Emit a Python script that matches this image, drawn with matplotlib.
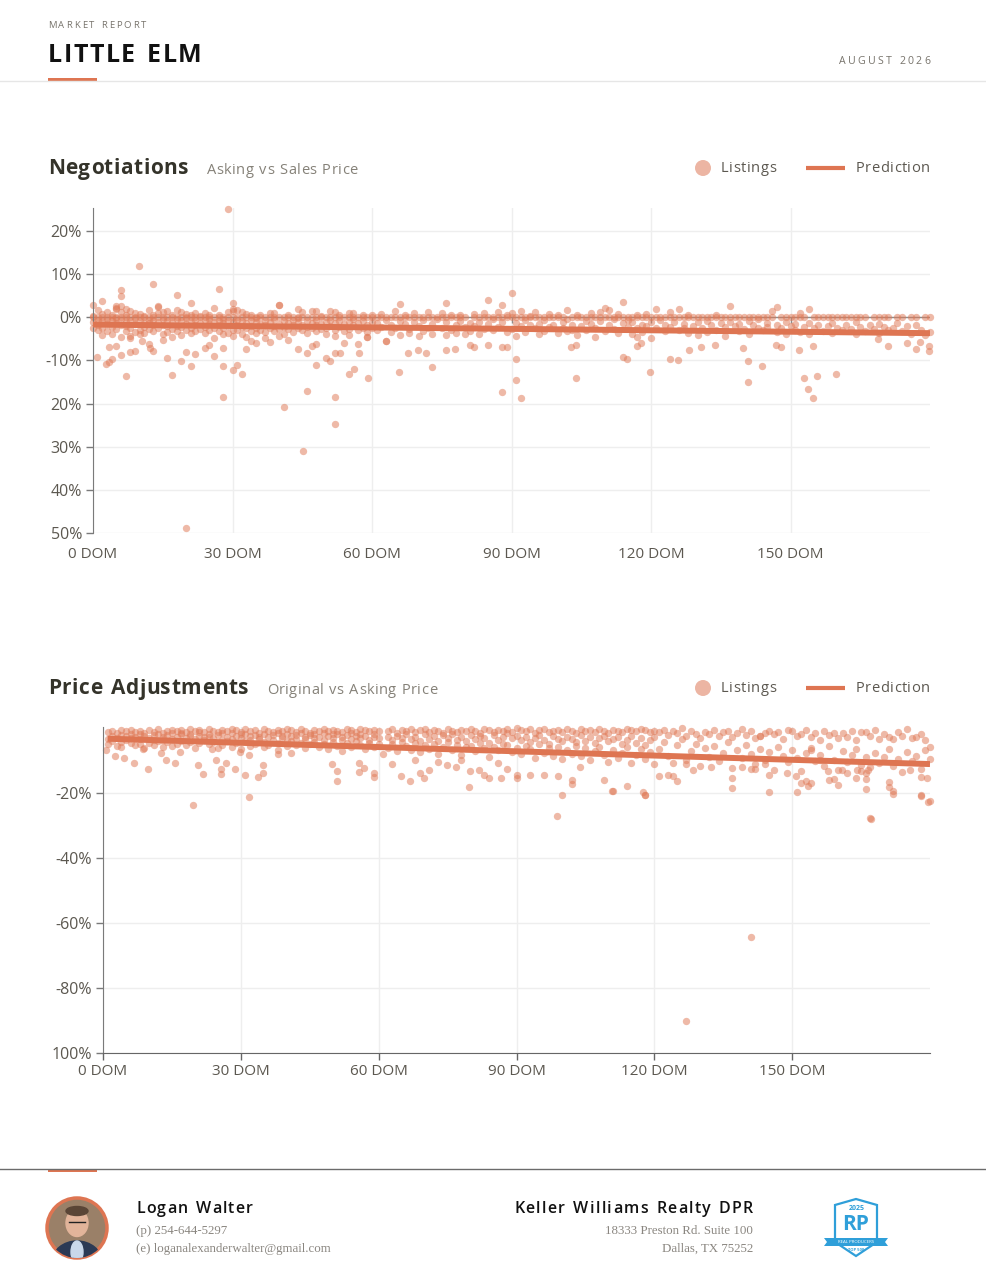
import matplotlib
matplotlib.use("Agg")
import matplotlib.pyplot as plt
from matplotlib.patches import Circle, Ellipse, Polygon, Rectangle

W, H = 986, 1272
ORANGE = '#DE7552'
DOT = '#E07A57'
GRID = '#eeeeee'
TXT = '#5c5850'
SANS = ['Open Sans', 'DejaVu Sans']
SERIF = ['Liberation Serif', 'DejaVu Serif']

# ---- Negotiations (asking vs sales price), % by days on market ----
top_rows = [
    (0, [0, -2.4, 0.3, -1.1, 2.9]), (1, [0, -1.8, -0.6, 1.6, -3.0]), (2, [0, -0.9, -2.6, 0.8, -4.1]),
    (3, [0, 1.2, -1.5, -3.3, -0.4]), (4, [0, -2.2, -0.7, 0.5, -3.8]), (5, [0, 1.8, -1.3, -2.7, -0.2, 2.2]),
    (6, [0, 2.5, -0.5, -1.9, -4.6, 1.1]), (7, [0, 1.9, -1.2, -3.1, 0.6, -2.0]), (8, [0, -0.8, -2.5, 1.4, -4.3]),
    (9, [0, 1.0, -1.6, -3.4, -0.3]), (10, [0, -2.9, -0.9, 0.7, -4.0]), (11, [0, -1.4, -3.6, 0.2, -2.2]),
    (12, [0, 1.7, -0.6, -2.8, -1.3]), (13, [0, -1.9, 0.4, -3.2, -0.8]), (14, [0, 2.4, -1.1, -2.4, 0.9]),
    (15, [0, -0.4, -1.7, -3.9, 1.3]), (16, [0, 1.5, -2.1, -0.9, -3.5]), (17, [0, -1.2, -4.6, 0.6, -2.7]),
    (18, [0, 1.6, -0.5, -2.0, -3.3]), (19, [0, -0.8, -2.3, 1.2, -4.1]), (20, [0, 0.8, -1.5, -3.0, -0.3]),
    (21, [0, -1.0, -2.6, 0.5, -3.7]), (22, [0, -0.6, -1.9, 1.0, -3.1]), (23, [0, -1.4, -2.8, 0.3]),
    (24, [0, 0.9, -0.7, -2.2, -3.6]), (25, [0, -1.6, -0.4, 0.6, -2.9]), (26, [0, 2.2, -1.1, -4.8, -2.4]),
    (27, [0, -0.9, -1.8, 0.4, -3.3]), (28, [0, -1.3, -2.5, -0.5, -4.0]), (29, [0, 1.1, -0.8, -2.1, -3.7]),
    (30, [0, 2.0, -1.0, -2.9, -4.4, 1.4]), (31, [0, 1.6, -0.6, -1.7, -3.0]), (32, [0, 1.3, -2.2, -0.9, -3.8]),
    (33, [0, 0.7, -1.4, -2.6, -4.7]), (34, [0, -0.7, -2.0, 0.4, -3.2]), (35, [0, -1.1, -2.4, -0.3, -3.6]),
    (36, [0, 0.5, -1.6, -2.9]), (37, [0, -0.8, -1.9, -3.4, -4.9]), (38, [0, 0.9, -1.2, -2.5]),
    (39, [0, -0.5, -2.1, -3.3, 1.0]), (40, [0, 2.9, -1.6, -2.8, -4.4]), (41, [0, -0.9, -2.3, -3.9]),
    (42, [0, 0.6, -1.4, -2.7]), (43, [0, -0.6, -1.8, -3.5]), (44, [0, 1.8, -1.0, -2.4, -0.3]),
    (45, [0, -1.7, -3.0, 1.1]), (46, [0, -0.8, -2.2, -3.7]), (47, [0, 1.4, -1.3, -2.6]),
    (48, [0, -0.7, -1.9, -3.1, 1.5]), (49, [0, 0.3, -1.5, -2.8]), (50, [0, -1.1, -2.4, -3.9]),
    (51, [0, 1.4, -0.6, -2.0]), (52, [0, -1.3, -2.9, -4.3, 1.2]), (53, [0, -0.8, -2.2, 0.4]),
    (54, [0, -1.6, -3.2]), (55, [0, 0.9, -1.1, -2.7, -4.1]), (56, [0, -0.5, -1.9, 1.0]),
    (57, [0, -1.4, -3.0]), (58, [0, 0.6, -0.9, -2.4]), (59, [0, -1.8, -3.5, -4.6]),
    (60, [0, 0.5, -1.2, -2.6]), (61, [0, -1.3, -3.0]), (62, [0, 0.8, -2.2]), (63, [0, -0.6, -5.5]),
    (64, [0, -1.9, -3.4]), (65, [0, 1.4, -2.5]), (66, [0, -0.9, -4.1, 3.1]), (67, [0, -1.6, 0.5]),
    (68, [0, -2.8, -3.7]), (69, [0, 0.9, -1.2]), (70, [0, -2.0, -4.4]), (71, [0, -0.7, -3.1]),
    (72, [0, 1.2, -2.4]), (73, [0, -1.5, -3.9]), (74, [0, -0.4]), (75, [0, -2.6, 1.0]),
    (76, [0, -1.1, -4.2, 3.3]), (77, [0, 0.6, -2.9]), (78, [0, -1.8, -3.6]), (79, [0, -0.8, 0.4]),
    (80, [0, -2.3, -4.0]), (81, [-1.4, -3.3]), (82, [0, 0.7, -2.1]), (83, [0, -1.0, -3.8]),
    (84, [0, -2.7, 0.9]), (85, [0, 4.1, -1.6]), (86, [0, -0.5, -3.0]), (87, [0, 1.1, -2.3]),
    (88, [0, 2.9, -1.2]), (89, [0, -3.5, 0.5]), (90, [0, 5.5, 1.0, -2.8]), (91, [0, -1.3, -4.3]),
    (92, [0, 1.5, -2.0]), (93, [0, -0.7, -3.4]), (94, [0, 0.3, -1.9]), (95, [0, 1.2, -2.6]),
    (96, [0, -1.5, -4.0]), (97, [0, -0.6, -3.1]), (98, [0, 0.8, -2.2]), (99, [0, -1.8]),
    (100, [0, 0.5, -3.7]), (101, [0, -1.0, -2.4]), (102, [1.7, -0.4, -3.3]), (103, [0, -1.7, -2.9]),
    (104, [0, 0.6, -4.2]), (105, [0, -2.1]), (106, [0, -0.8, -3.0]), (107, [0, 0.9, -1.5]),
    (108, [0, -2.6, -4.5]), (109, [0, 1.3, -0.9]), (110, [0, 2.2, -3.2]), (111, [0, 1.6, -1.9]),
    (112, [0, -0.5, -2.7]), (113, [0, 0.7, -3.6]), (114, [3.6, 0, -1.4]), (115, [0, -2.2, -0.6]),
    (116, [0, -1.1, -4.0]), (117, [0, 0.4, -2.5]), (118, [0, -1.7, -3.4]), (119, [0, 0.8, -2.0]),
    (120, [0, -1.2, -4.8]), (121, [0, 1.9, -2.6]), (122, [0, -0.7]), (123, [0, -1.8, -3.3]),
    (124, [0, 1.3, -2.2]), (125, [0, -1.0]), (126, [0, 1.9, -3.0]), (127, [0, -1.5, -2.4]),
    (128, [0, 0.5, -3.7]), (129, [0, -2.0]), (130, [0, -1.2, -4.1]), (131, [0, -2.6]),
    (132, [0, -0.9, -3.5]), (133, [0, -1.8]), (134, [0, 0.6, -2.9]), (135, [0, -1.4]),
    (136, [0, -2.3, -4.4]), (137, [0, 2.6, -1.1]), (138, [0, -2.0]), (139, [0, -1.5, -3.2]),
    (140, [0, -2.7]), (141, [0, -0.8, -3.9]), (142, [0, -1.9]), (143, [0, -2.4, -0.5]),
    (144, [0, -3.0]), (145, [0, -1.3, -2.2]), (146, [0, 1.4]), (147, [2.4, -1.7, -3.4]),
    (148, [0, -2.5]), (149, [0, -1.0, -3.8]), (150, [0, -2.1]), (151, [0, -1.6, -2.9]),
    (152, [0, 1.0, -3.5]), (153, [0, -2.2]), (154, [1.9, -1.3, -4.0]), (155, [0, -2.6]),
    (156, [0, -1.8]), (157, [0, -3.1]), (158, [0, -2.0]), (159, [0, -1.4, -3.6]),
    (160, [0, -2.4]), (161, [0, -3.0]), (162, [0, -1.7]), (163, [0, -2.8]), (164, [0, -1.2, -3.9]),
    (165, [0, -2.3]), (166, [0, -3.3]), (167, [-1.9]), (168, [0, -2.7]), (169, [0, -1.5, -3.7]),
    (170, [0, -2.2]), (171, [0, -3.0]), (172, [-2.6]), (173, [0, -1.4]), (174, [0, -3.2]),
    (175, [-2.0]), (176, [0, -3.8]), (177, [0, -1.7]), (178, [-2.9]), (179, [0, -4.2]), (180, [0, -3.5]),
]
top_out_dom = [29, 9.9, 13, 6, 6, 27, 18, 1.9, 21.1, 30.1, 40, 13.9, 5,
               0.9, 2.9, 3.5, 4, 5, 6, 7, 7.9, 9, 12.2, 13, 16, 17, 19, 19.9, 21, 22, 24, 26,
               28, 28, 28, 30, 31, 32, 33, 34, 41.1, 44.1, 45.1, 46, 46, 48, 48, 50, 51, 52, 52,
               52, 53.1, 55, 56.1, 57.1, 59.1, 19.9, 59, 63, 65.7, 73, 67.7, 71.7, 90.9, 90.9,
               87.9, 92, 103.9, 113.9, 114.9, 119.8, 124, 125.9, 140.9, 140.9, 143.8, 152.8,
               153.8, 154.8, 155.8, 159.8, 139.8, 133.8, 128.2, 130.8, 151.8, 154.8, 146.9,
               147.9, 170.9, 175, 177, 177.9, 179.8, 179.8, 168.9, 75.9, 77.9, 69.9, 81, 82,
               85, 88, 89, 102.9, 103.8, 116.9, 117.9, 116.9, 3.5, 8, 10.5, 12, 15, 25, 35, 38,
               42, 47, 54, 57]
top_out_pct = [25.0, 11.9, 7.6, 6.3, 4.9, 6.6, 5.2, 3.7, 3.3, 3.2, 2.9, 2.6, 2.7,
               -9.2, -10.9, -10.4, -9.8, -6.6, -8.7, -13.7, -8.0, -7.9, -7.1, -7.9, -9.5, -13.5,
               -10.1, -8.0, -11.2, -8.5, -7.1, -9.1, -11.2, -18.4, -7.1, -12.2, -11.0, -13.2,
               -7.4, -5.4, -20.9, -7.3, -30.9, -17.1, -8.3, -11.0, -6.1, -9.4, -10.2, -18.5,
               -24.7, -8.3, -8.3, -13.2, -12.0, -8.3, -14.0, -48.8, -4.6, -5.5, -12.8, -11.6,
               -8.3, -8.4, -9.8, -14.5, -17.3, -18.7, -14.1, -9.3, -9.8, -12.7, -9.8, -9.9,
               -10.1, -15.0, -11.3, -14.2, -16.6, -18.8, -13.7, -13.2, -7.1, -6.5, -7.7, -7.0,
               -7.6, -6.7, -6.5, -6.9, -6.7, -6.0, -7.4, -5.7, -6.7, -7.9, -5.1, -7.5, -7.4,
               -7.5, -6.4, -6.9, -6.5, -6.9, -6.8, -7.0, -6.5, -6.6, -6.0, -4.7, -6.8, -4.9,
               -5.6, -6.2, -5.3, -6.4, -6.0, -5.8, -5.2, -6.6, -5.9, -6.2]
top_pred_dom = [0, 180]
top_pred_pct = [-1.7, -3.7]
top_xticks = [0, 30, 60, 90, 120, 150]
top_yticks = [20, 10, 0, -10, -20, -30, -40, -50]
top_ylabels = ['20%', '10%', '0%', '-10%', '20%', '30%', '40%', '50%']

# ---- Price adjustments (original vs asking price), % by days on market ----
bot_rows = [
    (1, [-1.2, -3.5, -5.0]), (2, [-0.8, -2.6, -4.1]), (3, [-1.5, -3.0, -5.6]), (4, [-0.6, -2.1, -4.4, -6.0]),
    (5, [-1.0, -3.8, -2.4]), (6, [-0.5, -1.9, -4.6, -3.2]), (7, [-1.3, -2.8, -5.3]), (8, [-0.9, -3.4, -2.0, -4.9]),
    (9, [-1.6, -2.5, -6.2]), (10, [-0.7, -3.1, -4.5]), (11, [-1.1, -2.2, -5.1, -3.7]), (12, [-0.4, -1.8, -4.0]),
    (13, [-1.4, -2.9, -3.6, -5.8]), (14, [-0.8, -2.3, -4.3]), (15, [-0.6, -1.5, -3.3, -5.5]), (16, [-1.0, -2.7, -4.8]),
    (17, [-0.5, -2.0, -3.9, -1.4]), (18, [-1.2, -3.2, -5.2]), (19, [-0.3, -1.7, -2.6, -4.2]), (20, [-0.9, -3.5, -6.3]),
    (21, [-0.6, -2.4, -4.6, -1.3]), (22, [-1.1, -2.9, -3.8]), (23, [-0.4, -1.9, -5.0, -2.7]), (24, [-0.8, -3.0, -4.4]),
    (25, [-1.3, -2.2, -6.1]), (26, [-0.5, -1.6, -3.6, -5.3]), (27, [-1.0, -2.8, -4.0]), (28, [-0.2, -1.4, -3.3, -5.7]),
    (29, [-0.7, -2.5, -4.7]), (30, [-1.2, -3.1, -2.0, -6.6]), (31, [-0.4, -1.8, -4.1]), (32, [-0.9, -2.6, -3.7, -5.4]),
    (33, [-0.6, -2.1, -4.9]), (34, [-1.4, -3.4, -2.7]), (35, [-0.3, -1.7, -4.3, -6.0]), (36, [-0.8, -2.9, -5.1]),
    (37, [-1.1, -2.3, -3.6]), (38, [-0.5, -1.5, -4.5, -6.9]), (39, [-0.9, -3.2, -2.4]), (40, [-0.2, -1.9, -4.0, -5.6]),
    (41, [-0.7, -2.6, -3.9]), (42, [-1.2, -3.5, -5.3, -2.1]), (43, [-0.4, -1.6, -4.6]), (44, [-0.8, -2.8, -3.4, -6.2]),
    (45, [-1.5, -2.3, -5.0]), (46, [-0.6, -1.9, -4.2, -3.1]), (47, [-0.9, -2.7, -5.8]), (48, [-0.3, -1.4, -3.7, -4.8]),
    (49, [-1.0, -2.5, -6.4]), (50, [-0.5, -3.0, -4.4, -2.0]), (51, [-0.8, -1.8, -5.5]), (52, [-1.3, -2.9, -3.8, -7.0]),
    (53, [-0.4, -2.2, -4.7]), (54, [-0.7, -1.6, -3.3, -5.9]), (55, [-1.1, -2.6, -4.1]), (56, [-0.2, -1.9, -5.2, -3.0]),
    (57, [-0.6, -2.4, -6.6]), (58, [-1.0, -3.6, -4.5]), (59, [-0.5, -1.7, -2.8, -5.7]), (60, [-0.8, -3.2, -4.9]),
    (62, [-0.9, -2.9, -6.1]), (63, [-0.3, -3.8, -5.0]), (64, [-1.4, -2.4, -7.2]), (65, [-0.6, -4.3, -3.1]),
    (66, [-1.0, -2.0, -5.6]), (67, [-0.4, -3.5, -6.8]), (68, [-1.2, -2.7, -4.6]), (69, [-0.7, -4.0, -7.5]),
    (70, [-0.2, -1.8, -5.3]), (71, [-1.1, -3.3, -6.4]), (72, [-0.5, -2.6, -4.8]), (73, [-0.9, -3.9, -7.9]),
    (74, [-1.6, -2.2, -5.9]), (75, [-0.3, -4.4, -3.0]), (76, [-0.8, -1.9, -6.7]), (77, [-1.3, -3.6, -5.1]),
    (78, [-0.6, -2.8, -8.3]), (79, [-1.0, -4.1, -6.0]), (80, [-0.4, -2.3, -5.4]), (81, [-0.9, -3.4, -7.1]),
    (82, [-1.5, -2.5, -4.7]), (83, [-0.2, -3.0, -6.3]), (84, [-0.7, -4.6, -8.8]), (85, [-1.1, -2.1, -5.7]),
    (86, [-0.5, -3.7, -6.9]), (87, [-0.8, -2.9, -4.9]), (88, [-0.3, -1.6, -5.2]), (89, [-1.2, -3.2, -7.4]),
    (90, [-0.1, -2.4, -6.1]), (91, [-0.6, -3.8, -8.0]), (92, [-1.0, -2.7, -5.5]), (93, [-0.4, -4.3, -6.6]),
    (94, [-1.4, -3.1, -9.2]), (95, [-0.7, -2.2, -5.0]), (96, [-0.3, -3.6, -7.7]), (97, [-1.1, -4.8, -6.3]),
    (98, [-0.9, -2.6, -8.5]), (99, [-0.5, -3.3, -5.8]), (100, [-1.3, -4.0, -9.6]), (101, [-0.2, -2.9, -6.9]),
    (102, [-0.8, -3.5, -7.9]), (103, [-1.6, -4.4, -5.4]), (104, [-0.4, -2.3, -8.7]), (105, [-1.0, -3.9, -6.2]),
    (106, [-0.6, -2.8, -9.9]), (107, [-1.2, -4.6, -7.1]), (108, [-0.3, -3.1, -5.9]), (109, [-0.9, -2.5, -8.2]),
    (110, [-1.4, -4.1, -10.4]), (111, [-0.5, -3.4, -6.7]), (112, [-0.8, -2.7, -9.1]), (113, [-1.1, -5.0, -7.6]),
    (114, [-0.4, -3.7, -6.0]), (115, [-0.7, -2.4, -10.8]), (116, [-1.0, -4.5, -8.4]), (117, [-0.2, -3.0, -6.4]),
    (118, [-0.6, -5.3, -9.5]), (119, [-1.3, -3.6, -7.3]), (120, [-0.9, -2.8, -11.2]),
    (121, [-1.2, -6.5]), (122, [-0.5, -4.2]), (123, [-2.1, -8.6]), (124, [-0.8, -10.9]), (125, [-1.6, -5.3]),
    (126, [0.0, -3.4]), (127, [-2.6, -9.8]), (128, [-0.9, -7.2]), (129, [-1.9, -4.8]), (130, [-3.0, -11.6]),
    (131, [-1.1, -6.1]), (132, [-1.7, -8.9]), (133, [-0.6, -5.5]), (134, [-2.4, -10.2]), (135, [-1.3, -7.7]),
    (136, [-0.8, -4.4]), (137, [-2.8, -12.3]), (138, [-1.5, -6.8]), (139, [-0.4, -9.3]), (140, [-2.2, -5.2]),
    (141, [-1.0, -8.1]), (142, [-3.2, -11.0]), (143, [-2.6, -6.6]), (144, [-1.4, -9.7]), (145, [-0.9, -7.4]),
    (146, [-2.0, -12.8]), (147, [-1.2, -5.9]), (148, [-3.4, -8.7]), (149, [-0.7, -10.6]), (150, [-1.0, -6.9]),
    (151, [-2.5, -9.2]), (152, [-1.8, -13.1]), (153, [-0.5, -7.8]), (154, [-2.9, -6.2]), (155, [-1.4, -10.1]),
    (156, [-3.6, -8.4]), (157, [-0.8, -11.8]), (158, [-2.2, -5.6]), (159, [-1.6, -9.9]), (160, [-3.1, -13.0]),
    (161, [-1.6, -7.0]), (162, [-2.7, -10.5]), (163, [-0.9, -8.2]), (164, [-3.8, -6.5]), (165, [-1.3, -11.4]),
    (166, [-1.3, -9.0]), (167, [-2.4, -12.0]), (168, [-0.6, -7.6]), (169, [-3.3, -10.8]), (170, [-1.9, -8.9]),
    (171, [-2.8, -6.4]), (172, [-3.3, -11.7]), (173, [-1.1, -9.4]), (174, [-2.5, -13.4]), (175, [-0.4, -7.3]),
    (176, [-3.0, -10.3]), (177, [-2.9, -8.5]), (178, [-1.7, -12.5]), (179, [-3.7, -6.8]), (180, [-5.8, -9.6]),
]
bot_out_dom = [19.6, 31.8, 98.9, 141, 127, 167.1, 180, 178, 172, 151, 118, 117.6, 111, 100, 79.7,
               0.65, 2.6, 4.6, 6.7, 8.7, 9.7, 12.6, 13.7, 15.7, 16.7, 20.7, 21.8, 23.7, 24.7, 25.7,
               25.7, 26.7, 28.8, 29.8, 30.8, 31.7, 33.8, 34.9, 34.9, 38, 40.9, 49.9, 50.9, 50.9,
               55.8, 55.8, 56.9, 58.9, 58.9, 60.9, 62.9, 64.9, 66.8, 67.8, 68.9, 69.8, 70.9, 72.9,
               74.9, 76.9, 77.9, 79.9, 81.8, 83, 84, 86.7, 85.9, 87.9, 90, 90.2, 93, 95.9, 99, 102,
               102, 103.9, 109, 114, 110.8, 117.9, 121, 123, 124, 125, 127, 128.5, 132.4, 137, 139,
               141, 142, 137, 144.9, 145, 144.1, 142.9, 148.8, 150.8, 152, 153, 154, 153.5, 154,
               156, 157.9, 159, 160, 158, 160.8, 161.9, 164, 165, 164.2, 166.6, 166, 166, 166, 167,
               171, 171, 171.9, 175.7, 178, 179.3, 178, 179.6]
bot_out_pct = [-23.7, -21.2, -27.1, -64.3, -90.2, -28.0, -22.5, -20.6, -19.4, -19.7, -20.6, -19.7,
               -19.4, -20.6, -18.2, -6.8, -8.7, -9.1, -10.8, -6.4, -12.6, -7.6, -9.9, -10.7, -7.4,
               -11.5, -14.2, -6.4, -10.0, -12.5, -14.3, -10.9, -12.7, -7.5, -14.4, -8.2, -15.0,
               -11.3, -13.7, -7.9, -7.6, -11.2, -13.3, -16.4, -10.9, -13.4, -12.2, -13.9, -15.0,
               -8.1, -11.0, -14.8, -16.4, -10.0, -13.9, -15.5, -12.9, -10.6, -11.5, -12.0, -10.0,
               -13.2, -13.0, -14.6, -15.4, -15.4, -10.9, -12.7, -15.4, -14.4, -14.5, -14.4, -14.7,
               -15.9, -17.1, -12.0, -15.9, -17.7, -19.5, -20.5, -14.9, -14.4, -14.9, -16.4, -11.1,
               -12.8, -12.0, -15.4, -12.0, -12.5, -12.5, -18.4, -19.8, -14.4, -11.1, -2.6, -13.8,
               -14.9, -16.9, -16.4, -16.9, -17.7, -6.9, -9.7, -13.2, -15.6, -17.4, -16.1, -13.0,
               -14.0, -15.4, -13.2, -12.9, -12.9, -13.8, -15.6, -18.8, -27.7, -18.2, -16.7, -20.2,
               -12.8, -15.1, -15.4, -20.8, -22.9]
bot_pred_dom = [1, 180]
bot_pred_pct = [-3.3, -11.1]
bot_xticks = [0, 30, 60, 90, 120, 150]
bot_yticks = [-20, -40, -60, -80, -100]
bot_ylabels = ['-20%', '-40%', '-60%', '-80%', '100%']
xtick_labels = ['0 DOM', '30 DOM', '60 DOM', '90 DOM', '120 DOM', '150 DOM']


def flatten(rows):
    xs, ys = [], []
    for d, vals in rows:
        for v in vals:
            xs.append(d)
            ys.append(v)
    return xs, ys


fig = plt.figure(figsize=(W / 100, H / 100), dpi=100)
fig.patch.set_facecolor('white')

# page layer in pixel coordinates
bg = fig.add_axes([0, 0, 1, 1], zorder=0)
bg.set_xlim(0, W)
bg.set_ylim(H, 0)
bg.axis('off')
renderer = fig.canvas.get_renderer()


def spaced(x, y, s, gap, align='left', **kw):
    # letter-spaced text, measured char by char
    widths = []
    for ch in s:
        t = bg.text(0, 0, ch if ch != ' ' else 'n', **kw)
        w = t.get_window_extent(renderer=renderer).width
        t.remove()
        widths.append(w * (0.55 if ch == ' ' else 1.0))
    total = sum(widths) + gap * (len(s) - 1)
    if align == 'right':
        x -= total
    for ch, w in zip(s, widths):
        if ch != ' ':
            bg.text(x, y, ch, ha='left', **kw)
        x += w + gap


# header
spaced(48, 25, 'MARKET REPORT', 1.9, fontsize=6.8, color='#77736b', family=SANS, va='center')
spaced(48, 55, 'LITTLE ELM', 1.5, fontsize=18, fontweight='bold', color='#111111', family=SANS, va='center')
spaced(930, 61, 'AUGUST 2026', 2.2, align='right', fontsize=7.6, color='#77736b', family=SANS, va='center')
bg.plot([0, W], [81, 81], color='#e6e6e6', lw=1)
bg.add_patch(Rectangle((48, 78), 49, 3, color=ORANGE, lw=0))


def section(y, title, sub, sub_x):
    spaced(48, y, title, 0.5, fontsize=15, fontweight='bold', color='#34332a', family=SANS, va='center')
    spaced(sub_x, y + 2, sub, 0.4, fontsize=10.5, color='#858178', family=SANS, va='center')
    bg.add_patch(Circle((703, y - 1), 8, color='#ecb5a3', lw=0))
    spaced(721, y - 1, 'Listings', 0.6, fontsize=10.5, color=TXT, family=SANS, va='center')
    bg.plot([806, 845], [y - 1, y - 1], color=ORANGE, lw=3, solid_capstyle='butt')
    spaced(930, y - 1, 'Prediction', 0.6, align='right', fontsize=10.5, color=TXT, family=SANS, va='center')


section(169, 'Negotiations', 'Asking vs Sales Price', 207)
section(689, 'Price Adjustments', 'Original vs Asking Price', 267)


def style_axes(ax):
    ax.set_facecolor('none')
    ax.set_xlim(0, 180)
    for s in ['top', 'right']:
        ax.spines[s].set_visible(False)
    ax.spines['left'].set_color('#7a7a7a')
    ax.grid(True, color=GRID, lw=1)
    ax.set_axisbelow(True)
    ax.tick_params(axis='y', length=5, width=1, color='#7a7a7a', labelsize=11.5, labelcolor=TXT, pad=3)
    ax.tick_params(axis='x', labelsize=11, labelcolor=TXT)
    for lab in ax.get_xticklabels() + ax.get_yticklabels():
        lab.set_family(SANS)


# top chart: negotiations
ax1 = fig.add_axes([93 / W, 1 - 533 / H, 837 / W, 325 / H], zorder=1)
tx, ty = flatten(top_rows)
ax1.set_ylim(-50, 25.3)
ax1.set_xticks(top_xticks)
ax1.set_xticklabels(xtick_labels)
ax1.set_yticks(top_yticks)
ax1.set_yticklabels(top_ylabels)
style_axes(ax1)
ax1.spines['bottom'].set_visible(False)
ax1.tick_params(axis='x', length=0, pad=10)
ax1.axhline(0, color='#8c8c8c', lw=1, zorder=1)
ax1.plot(top_xticks[1:], [0] * (len(top_xticks) - 1), ls='none', marker=3, ms=4, mew=1, color='#8c8c8c', zorder=1)
ax1.scatter(tx, ty, s=28, color=DOT, alpha=0.52, lw=0, zorder=2, clip_on=False)
ax1.scatter(top_out_dom, top_out_pct, s=28, color=DOT, alpha=0.52, lw=0, zorder=2, clip_on=False)
ax1.plot(top_pred_dom, top_pred_pct, color=ORANGE, lw=4.3, zorder=3, solid_capstyle='butt')

# bottom chart: price adjustments
ax2 = fig.add_axes([103 / W, 1 - 1053 / H, 827 / W, 326 / H], zorder=1)
bx, by = flatten(bot_rows)
ax2.set_ylim(-100, 0.3)
ax2.set_xticks(bot_xticks)
ax2.set_xticklabels(xtick_labels)
ax2.set_yticks(bot_yticks)
ax2.set_yticklabels(bot_ylabels)
style_axes(ax2)
ax2.spines['bottom'].set_color('#666666')
ax2.tick_params(axis='x', length=5, width=1, color='#666666', pad=3)
ax2.scatter(bx, by, s=28, color=DOT, alpha=0.52, lw=0, zorder=2, clip_on=False)
ax2.scatter(bot_out_dom, bot_out_pct, s=28, color=DOT, alpha=0.52, lw=0, zorder=2, clip_on=False)
ax2.plot(bot_pred_dom, bot_pred_pct, color=ORANGE, lw=4.3, zorder=3, solid_capstyle='butt')

# footer
bg.plot([0, W], [1169, 1169], color='#6b6b6b', lw=1)
bg.add_patch(Rectangle((48, 1169), 49, 3, color=ORANGE, lw=0))

frame = Circle((77, 1228), 30, facecolor='#9a8068', edgecolor=ORANGE, lw=2.5, zorder=2)
bg.add_patch(frame)
parts = [
    Ellipse((77, 1262), 50, 42, color='#2b3a55', zorder=3),
    Ellipse((77, 1252), 12, 22, color='#c9d8ea', zorder=3),
    Ellipse((77, 1223), 22, 27, color='#e2b49a', zorder=3),
    Ellipse((77, 1211), 22, 9, color='#5a4536', zorder=3),
]
for p in parts:
    bg.add_patch(p)
    p.set_clip_path(frame)
bg.plot([69, 85], [1222, 1222], color='#222222', lw=1, zorder=4)

spaced(136, 1209, 'Logan Walter', 1.2, fontsize=11.5, fontweight='semibold', color='#111111', family=SANS, va='center')
bg.text(136, 1231, '(p) 254-644-5297', fontsize=9.3, color='#8a8680', family=SERIF, va='center')
bg.text(136, 1249, '(e) loganalexanderwalter@gmail.com', fontsize=9.3, color='#8a8680', family=SERIF, va='center')
spaced(753, 1209, 'Keller Williams Realty DPR', 1.3, align='right', fontsize=11.5, fontweight='semibold',
       color='#111111', family=SANS, va='center')
bg.text(753, 1231, '18333 Preston Rd. Suite 100', fontsize=9.3, color='#8a8680', family=SERIF,
        va='center', ha='right')
bg.text(753, 1249, 'Dallas, TX 75252', fontsize=9.3, color='#8a8680', family=SERIF, va='center', ha='right')

# badge
BLUE = '#2f9fd9'
bg.add_patch(Polygon([(835, 1205), (856, 1199), (877, 1205), (877, 1242), (856, 1256), (835, 1242)],
                     closed=True, facecolor='white', edgecolor=BLUE, lw=1.6, zorder=2))
bg.text(857, 1209, '2025', fontsize=5, fontweight='bold', color=BLUE, ha='center', va='center', family=SANS, zorder=3)
bg.text(856, 1225, 'RP', fontsize=15, fontweight='bold', color=BLUE, ha='center', va='center', family=SANS, zorder=3)
bg.add_patch(Polygon([(824, 1238), (888, 1238), (885, 1242), (888, 1246), (824, 1246), (827, 1242)],
                     closed=True, color=BLUE, lw=0, zorder=3))
bg.text(856, 1242, 'REAL PRODUCERS', fontsize=3.2, color='white', ha='center', va='center', family=SANS, zorder=4)
bg.text(856, 1250, 'TOP 500', fontsize=3, fontweight='bold', color=BLUE, ha='center', va='center', family=SANS, zorder=4)

fig.savefig('out.png', dpi=100, facecolor='white')
